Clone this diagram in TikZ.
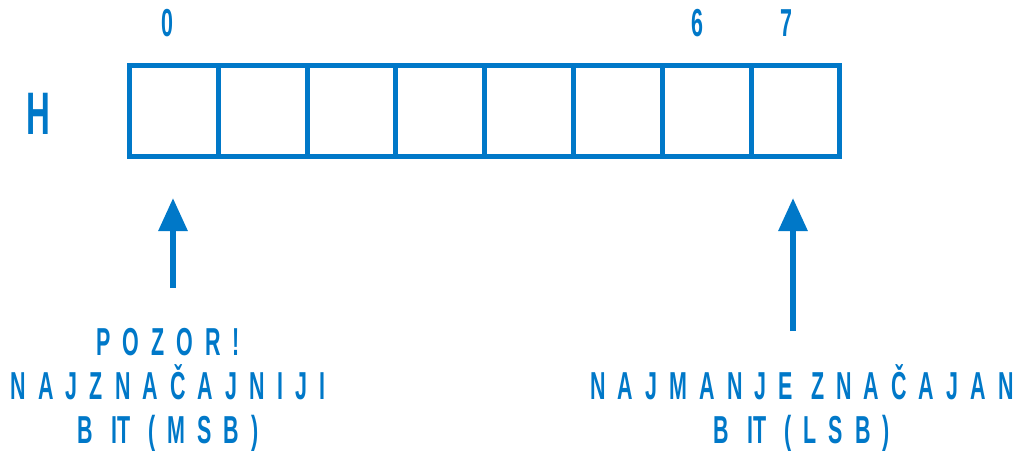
\documentclass[tikz,border=0pt]{standalone}
\usepackage{fontspec}
\setmainfont{Liberation Sans}[FakeStretch=0.55]
\usetikzlibrary{arrows.meta}
\definecolor{bitblue}{RGB}{0,120,200}

\begin{document}
\begin{tikzpicture}[
  x=0.5pt,y=-0.5pt,
  font=\bfseries\fontsize{19.5}{22}\selectfont,
  every node/.style={text=bitblue,inner sep=0pt,outer sep=0pt},
  cell/.style={draw=bitblue,line width=2.5pt,minimum width=44.4pt,
               minimum height=45.5pt,anchor=north west},
  idx/.style={anchor=base},
  note/.style={align=center,anchor=base,
               font=\bfseries\fontsize{19.5}{22}\selectfont\addfontfeature{LetterSpace=31}},
  pointer/.style={-{Triangle[width=14pt,length=16.5pt]},line width=3pt,draw=bitblue}
]
\useasboundingbox (0,0) rectangle (1020,450);
% --- register H: eight bit cells ---
\node[font=\bfseries\fontsize{30}{32}\selectfont,anchor=base] (reg) at (38.5,134) {H};
\foreach \i in {0,...,7}
  \node[cell] (c\i) at ({129.5+88.8*\i},65.5) {};
% --- bit numbers ---
\node[idx] (n0) at (167,36)   {0};
\node[idx] (n6) at (697.5,36) {6};
\node[idx] (n7) at (786.5,36) {7};
% --- pointers to MSB and LSB ---
\coordinate (msbtail) at (173,288);
\coordinate (msbtip)  at (173,198);
\coordinate (lsbtail) at (793,331);
\coordinate (lsbtip)  at (793,198);
\draw[pointer] (msbtail) -- (msbtip);
\draw[pointer] (lsbtail) -- (lsbtip);
% --- notes (anchored at the baseline of their last line) ---
\node[note] (msb) at (168,443) {POZOR!\\NAJZNAČAJNIJI\\B {\addfontfeature{LetterSpace=8}I}T (MSB)};
\node[note] (lsb) at (802,443) {NAJMANJE ZNAČAJAN\\B {\addfontfeature{LetterSpace=8}I}T (LSB)};
\end{tikzpicture}
\end{document}
